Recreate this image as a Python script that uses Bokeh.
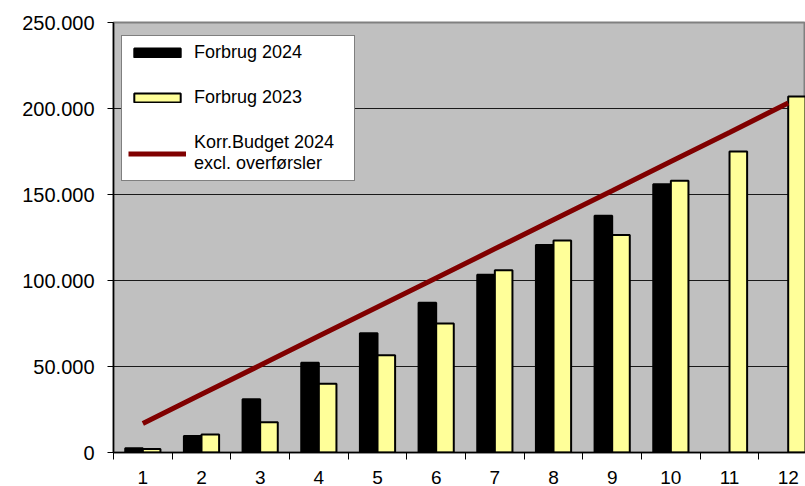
from bokeh.plotting import figure
from bokeh.models import Range1d, FixedTicker, Legend, LegendItem, ColumnDataSource
from bokeh.embed import file_html
from bokeh.resources import INLINE

months = [1, 2, 3, 4, 5, 6, 7, 8, 9, 10, 11, 12]
month_labels = ["1", "2", "3", "4", "5", "6", "7", "8", "9", "10", "11", "12"]
forbrug_2024_months = [1, 2, 3, 4, 5, 6, 7, 8, 9, 10]
forbrug_2024 = [2500, 9600, 30900, 52200, 69400, 87000, 103300, 120700, 137700, 156000]
forbrug_2023 = [2000, 10400, 17600, 40000, 56600, 75000, 105900, 123200, 126500, 158000, 175000, 207000]
budget_2024 = [16900, 33800, 50700, 67700, 84600, 101500, 118400, 135300, 152200, 169200, 186100, 203200]
y_ticks = [0, 50000, 100000, 150000, 200000, 250000]
y_tick_labels = ["0", "50.000", "100.000", "150.000", "200.000", "250.000"]

FONT = "Liberation Sans"
BAR_W = 0.3

p = figure(width=805, height=486, output_backend="svg", toolbar_location=None,
           x_range=Range1d(0.5, 12.295), y_range=Range1d(0, 250000),
           min_border_left=113, min_border_right=0, min_border_top=22, min_border_bottom=34)
p.background_fill_color = "#C0C0C0"
p.border_fill_color = "white"
p.outline_line_color = "#808080"
p.outline_line_width = 2

src24 = ColumnDataSource(dict(x=[m - BAR_W / 2 for m in forbrug_2024_months], top=forbrug_2024))
src23 = ColumnDataSource(dict(x=[m + BAR_W / 2 for m in months], top=forbrug_2023))
srcb = ColumnDataSource(dict(x=months, y=budget_2024))

r24 = p.vbar(x="x", top="top", width=BAR_W, source=src24, fill_color="black",
             line_color="black", line_width=2)
r23 = p.vbar(x="x", top="top", width=BAR_W, source=src23, fill_color="#FFFF99",
             line_color="black", line_width=2)
rb = p.line(x="x", y="y", source=srcb, line_color="#800000", line_width=5)

# y axis
p.yaxis.ticker = FixedTicker(ticks=y_ticks)
p.yaxis.major_label_overrides = {t: l for t, l in zip(y_ticks, y_tick_labels)}
p.yaxis.major_label_text_font = FONT
p.yaxis.major_label_text_font_size = "20px"
p.yaxis.major_label_text_color = "black"
p.yaxis.major_tick_out = 6
p.yaxis.major_tick_in = 0
p.yaxis.minor_tick_out = 0
p.yaxis.minor_tick_in = 0
p.yaxis.major_label_standoff = 13
p.yaxis.axis_line_color = "black"
p.yaxis.axis_line_width = 1.5
p.yaxis.major_tick_line_color = "black"

# x axis
p.xaxis.ticker = FixedTicker(ticks=months, minor_ticks=[m - 0.5 for m in months] + [12.5])
p.xaxis.major_label_overrides = {m: l for m, l in zip(months, month_labels)}
p.xaxis.major_label_text_font = FONT
p.xaxis.major_label_text_font_size = "19px"
p.xaxis.major_label_text_color = "black"
p.xaxis.major_tick_out = 0
p.xaxis.major_tick_in = 0
p.xaxis.minor_tick_out = 7
p.xaxis.minor_tick_in = 0
p.xaxis.minor_tick_line_color = "black"
p.xaxis.major_label_standoff = 11
p.xaxis.axis_line_color = "black"
p.xaxis.axis_line_width = 1.5

p.xgrid.grid_line_color = None
p.ygrid.ticker = FixedTicker(ticks=y_ticks)
p.ygrid.grid_line_color = "#1a1a1a"
p.ygrid.grid_line_width = 1

legend = Legend(items=[
    LegendItem(label="Forbrug 2024", renderers=[r24]),
    LegendItem(label="Forbrug 2023", renderers=[r23]),
    LegendItem(label="Korr.Budget 2024\nexcl. overførsler", renderers=[rb]),
], location=(8, 271))
legend.label_text_font = FONT
legend.label_text_font_size = "18px"
legend.label_text_color = "black"
legend.glyph_width = 58
legend.glyph_height = 11
legend.label_standoff = 8
legend.label_width = 154
legend.padding = 6
legend.spacing = 24
legend.margin = 0
legend.border_line_color = "black"
legend.border_line_width = 1
legend.background_fill_color = "white"
legend.background_fill_alpha = 1
p.add_layout(legend)

open("out.html", "w").write(file_html(p, INLINE))
